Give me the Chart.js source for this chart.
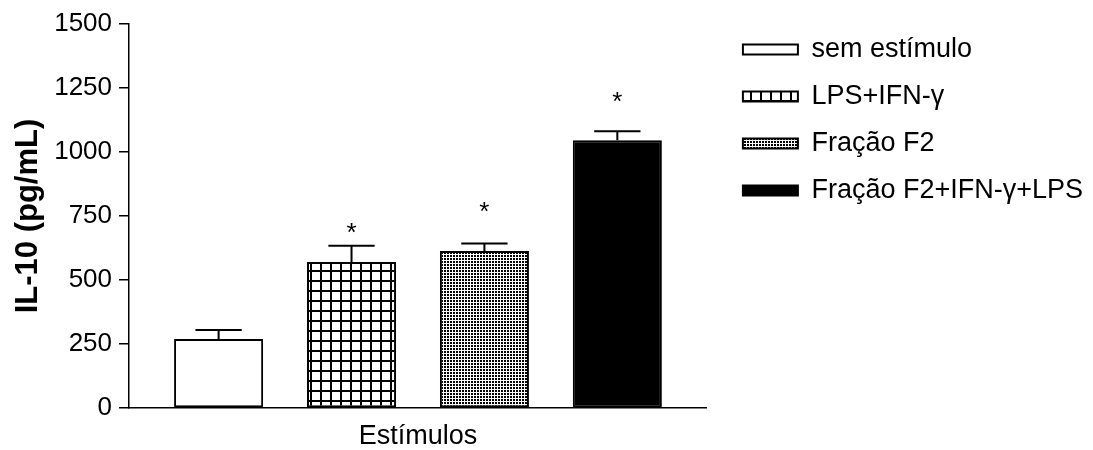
<!DOCTYPE html>
<html><head><meta charset="utf-8">
<script src="https://cdn.jsdelivr.net/npm/chart.js@4/dist/chart.umd.min.js"></script>
<style>html,body{margin:0;padding:0;background:#fff}#wrap{width:1093px;height:450px}</style>
</head><body><div id="wrap"><canvas id="c" width="1093" height="450"></canvas></div>
<script>
// ---- data ----
const categories = ['Estímulos'];
const seriesNames = ['sem estímulo', 'LPS+IFN-γ', 'Fração F2', 'Fração F2+IFN-γ+LPS'];
const means = [270, 570, 613, 1046];
const sems = [35, 64, 30, 35];
const asteriskAt = [null, 700, 780, 1210];
const yTicks = [0, 250, 500, 750, 1000, 1250, 1500];
const yTitle = 'IL-10 (pg/mL)';
const xTitle = 'Estímulos';

const FONT = '"Liberation Sans", Arial, Helvetica, sans-serif';
Chart.defaults.font.family = FONT;
Chart.defaults.color = '#000';

const canvas = document.getElementById('c');
const ctx = canvas.getContext('2d');

function makePattern(kind) {
  const t = document.createElement('canvas');
  const g = t.getContext('2d');
  if (kind === 'grid') {
    t.width = 10; t.height = 10;
    g.fillStyle = '#fff'; g.fillRect(0, 0, 10, 10);
    g.fillStyle = '#000'; g.fillRect(0, 0, 10, 2); g.fillRect(0, 0, 2, 10);
  } else {
    t.width = 3; t.height = 3;
    g.fillStyle = '#fff'; g.fillRect(0, 0, 3, 3);
    g.fillStyle = '#000'; g.fillRect(0, 0, 2, 2);
  }
  return ctx.createPattern(t, 'repeat');
}
const fills = ['#ffffff', makePattern('grid'), makePattern('dots'), '#000000'];

const errorBars = {
  id: 'errorBars',
  afterDatasetsDraw(chart) {
    const c = chart.ctx, y = chart.scales.y;
    c.save();
    c.strokeStyle = '#000'; c.fillStyle = '#000'; c.lineWidth = 2;
    chart.data.datasets.forEach((ds, i) => {
      const bar = chart.getDatasetMeta(i).data[0];
      const v = ds.data[0];
      const top = y.getPixelForValue(v);
      const et = y.getPixelForValue(v + sems[i]);
      const half = bar.width * 0.26;
      c.beginPath();
      c.moveTo(bar.x, top); c.lineTo(bar.x, et);
      c.moveTo(bar.x - half, et); c.lineTo(bar.x + half, et);
      c.stroke();
      if (asteriskAt[i] !== null) {
        c.font = '26px ' + FONT;
        c.textAlign = 'center'; c.textBaseline = 'alphabetic';
        c.fillText('*', bar.x, y.getPixelForValue(asteriskAt[i]) + 12);
      }
    });
    c.restore();
  }
};

new Chart(canvas, {
  type: 'bar',
  data: {
    labels: categories,
    datasets: seriesNames.map((name, i) => ({
      label: name,
      data: [means[i]],
      backgroundColor: fills[i],
      borderColor: '#000',
      borderWidth: 2,
      borderSkipped: false,
      categoryPercentage: 0.92,
      barPercentage: 0.67
    }))
  },
  options: {
    responsive: false,
    animation: false,
    layout: { padding: { top: 16, right: 0, bottom: 0, left: 0 } },
    plugins: {
      tooltip: { enabled: false },
      legend: {
        position: 'right',
        align: 'start',
        maxWidth: 400,
        labels: { boxWidth: 55, boxHeight: 10, padding: 20, font: { size: 27 }, color: '#000' }
      }
    },
    scales: {
      x: {
        grid: { display: false, drawTicks: false },
        border: { display: true, color: '#000', width: 1.5 },
        ticks: { display: false },
        title: { display: true, text: xTitle, font: { size: 27, lineHeight: 1.0 }, color: '#000', padding: { top: 15, bottom: 0 } }
      },
      y: {
        min: 0, max: 1500,
        afterBuildTicks: s => { s.ticks = yTicks.map(v => ({ value: v })); },
        grid: { display: true, drawOnChartArea: false, drawTicks: true, tickLength: 10, color: '#000', lineWidth: 1.5 },
        border: { display: true, color: '#000', width: 1.5 },
        ticks: { font: { size: 26, lineHeight: 1.31 }, padding: 7, color: '#000', callback: v => String(v) },
        title: { display: true, text: yTitle, font: { size: 31, weight: 'bold' }, color: '#000', padding: { top: 10, bottom: 0 } }
      },
      y2: {
        position: 'right',
        display: true,
        grid: { display: false, drawTicks: false },
        border: { display: false },
        ticks: { display: false },
        afterFit: s => { s.width = 16; }
      }
    }
  },
  plugins: [errorBars]
});
</script>
</body></html>
